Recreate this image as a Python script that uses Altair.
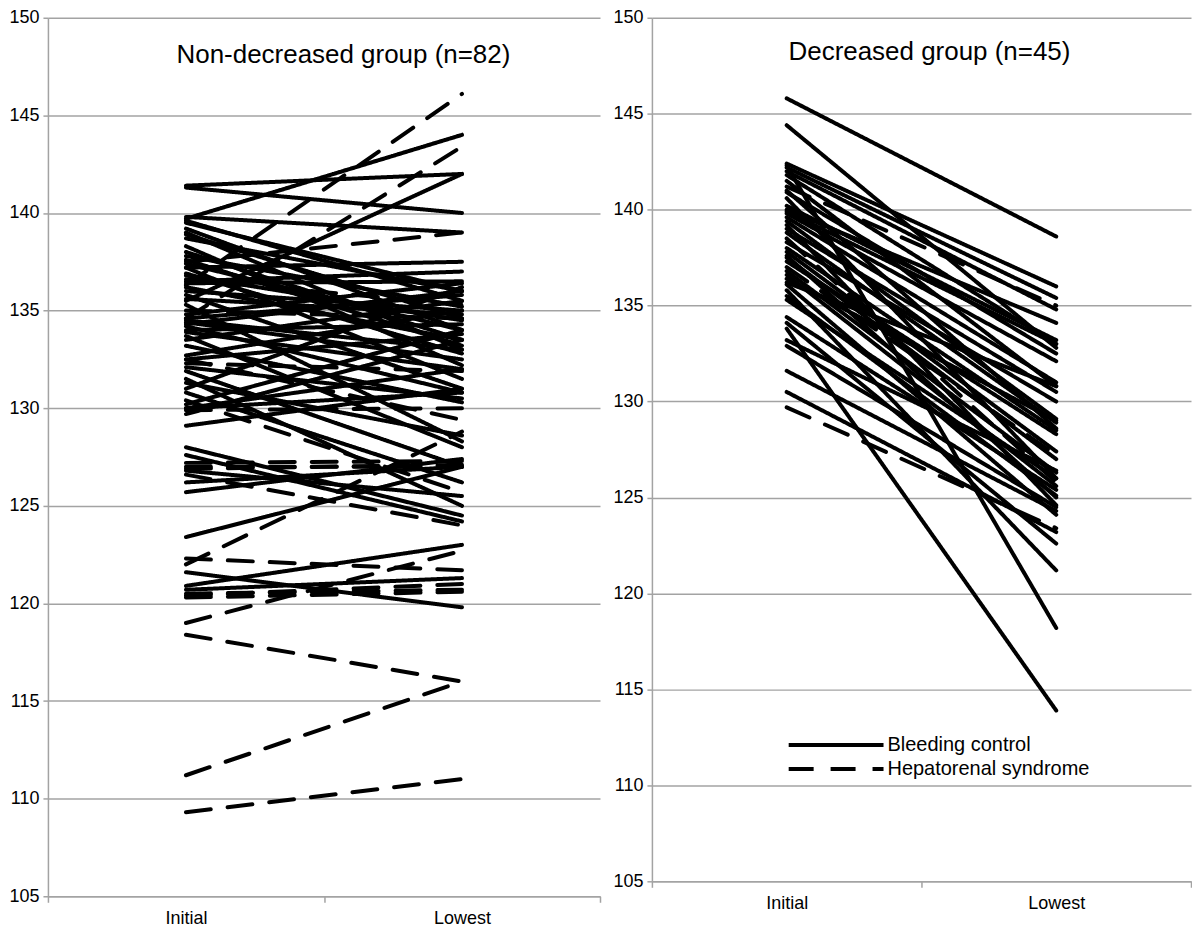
import altair as alt
import pandas as pd

stages = ["Initial", "Lowest"]
types = ["Bleeding control", "Hepatorenal syndrome"]
y_ticks = [105, 110, 115, 120, 125, 130, 135, 140, 145, 150]

title_left = "Non-decreased group (n=82)"
title_right = "Decreased group (n=45)"

# Non-decreased group (n=82): initial value, lowest value, type (B = bleeding control, H = hepatorenal)
nd_initial = [141.4, 141.3, 139.7, 139.8, 139.6, 139.5, 139.2, 139.0, 138.7, 138.3,
              137.8, 137.4, 137.2, 137.5, 137.2, 136.8, 136.5, 136.3, 136.2, 136.0,
              135.8, 135.5, 134.6, 134.8, 134.5, 134.3, 134.2, 134.0, 133.7, 133.5,
              134.4, 135.0, 132.7, 132.5, 132.3, 132.1, 131.9, 132.5, 131.5, 131.0,
              130.4, 130.2, 130.0, 129.9, 129.7, 129.1, 130.0, 128.0, 127.6, 127.2,
              127.0, 126.9, 126.8, 126.6, 126.2, 125.7, 123.4, 122.3, 122.0, 121.6,
              120.9, 120.7, 120.5, 120.3, 120.4, 119.0, 118.4, 111.2, 109.3, 138.0,
              136.9, 135.6, 134.6, 133.9, 136.4, 137.6, 138.9, 135.3, 133.2, 131.3,
              136.6, 130.8]
nd_lowest = [142.0, 140.0, 144.0, 139.0, 135.5, 136.0, 134.0, 133.0, 136.0, 132.2,
             135.2, 134.0, 131.5, 139.0, 137.5, 134.5, 137.0, 146.1, 133.5, 135.0,
             131.0, 142.0, 143.4, 136.4, 133.0, 136.0, 130.8, 134.3, 128.0, 135.5,
             132.5, 134.6, 135.0, 133.8, 131.9, 130.5, 127.0, 129.4, 125.0, 136.2,
             125.7, 134.0, 132.0, 130.0, 133.5, 131.0, 130.8, 124.5, 124.2, 127.3,
             127.0, 127.1, 125.5, 124.0, 127.0, 127.4, 127.0, 121.7, 128.8, 119.8,
             123.0, 121.3, 120.7, 120.6, 121.0, 122.7, 116.0, 116.0, 111.0, 133.5,
             132.8, 134.8, 135.8, 132.0, 136.5, 133.2, 134.6, 128.3, 130.3, 128.6,
             135.3, 126.2]
nd_type = ["B", "B", "B", "B", "B", "B", "B", "B", "B", "B",
           "B", "B", "B", "H", "B", "B", "B", "H", "B", "B",
           "B", "B", "H", "B", "B", "B", "B", "B", "B", "B",
           "B", "H", "B", "B", "H", "B", "B", "H", "B", "B",
           "H", "B", "B", "H", "B", "B", "B", "B", "B", "H",
           "H", "H", "B", "H", "B", "B", "B", "H", "H", "B",
           "B", "B", "H", "H", "H", "H", "H", "H", "H", "B",
           "B", "B", "B", "B", "B", "B", "B", "B", "B", "B",
           "H", "B"]

# Decreased group (n=45)
d_initial = [145.8, 144.4, 142.4, 142.3, 142.2, 142.0, 141.8, 141.5, 141.2, 140.9,
             140.6, 140.2, 139.8, 139.6, 139.4, 139.2, 139.0, 138.8, 138.5, 138.3,
             138.0, 137.8, 137.6, 137.3, 137.0, 136.8, 136.6, 136.4, 136.1, 135.8,
             135.5, 135.3, 134.4, 134.1, 133.8, 133.2, 132.9, 131.6, 130.5, 129.7,
             140.0, 139.9, 137.5, 136.2, 141.0]
d_lowest = [138.6, 132.8, 136.0, 118.2, 135.4, 134.8, 133.0, 130.8, 135.0, 132.5,
            126.0, 133.2, 132.1, 131.0, 129.1, 124.6, 130.5, 128.9, 125.8, 130.0,
            128.5, 127.4, 125.0, 128.3, 127.2, 126.3, 125.6, 129.0, 124.1, 121.2,
            125.1, 126.0, 125.4, 122.6, 113.9, 126.4, 124.5, 124.3, 123.2, 123.4,
            134.1, 133.0, 127.0, 130.8, 128.6]
d_type = ["B", "B", "B", "B", "B", "B", "B", "B", "H", "B",
          "B", "B", "B", "B", "B", "B", "B", "B", "H", "B",
          "B", "B", "B", "B", "H", "B", "B", "B", "B", "B",
          "B", "B", "B", "B", "B", "B", "B", "B", "B", "H",
          "B", "B", "B", "B", "B"]

type_names = {"B": types[0], "H": types[1]}


def long_table(initial, lowest, kind):
    rows = []
    for i, (a, b, k) in enumerate(zip(initial, lowest, kind)):
        rows.append({"id": i, "stage": stages[0], "value": a, "type": type_names[k]})
        rows.append({"id": i, "stage": stages[1], "value": b, "type": type_names[k]})
    return pd.DataFrame(rows)


GRID = "#a3a3a3"


def panel(df, title, width, height, title_x, title_y, legend):
    x = alt.X("stage:N", sort=stages, bandPosition=0.5,
              scale=alt.Scale(type="band", domain=stages, paddingInner=0, paddingOuter=0),
              axis=alt.Axis(title=None, labelAngle=0, tickBand="extent", tickSize=6,
                            tickColor=GRID, tickWidth=1.5, domainColor=GRID, domainWidth=1.5,
                            labelFontSize=18, labelColor="black", labelPadding=7, grid=False))
    y = alt.Y("value:Q", scale=alt.Scale(domain=[105, 150], nice=False, zero=False),
              axis=alt.Axis(title=None, values=y_ticks, tickSize=5, tickColor=GRID, tickWidth=1.5,
                            domainColor=GRID, domainWidth=1.5, gridColor=GRID, gridWidth=1.5,
                            labelFontSize=18, labelColor="black", labelPadding=4))
    lines = alt.Chart(df).mark_line(color="black", strokeWidth=4, strokeCap="round",
                                    strokeJoin="round").encode(
        x=x, y=y, detail="id:N",
        strokeDash=alt.StrokeDash("type:N",
                                  scale=alt.Scale(domain=types, range=[[1, 0], [25, 17]]),
                                  legend=legend),
    )
    ttl = alt.Chart(pd.DataFrame({"t": [title]})).mark_text(
        fontSize=26, color="black", align="center", baseline="middle").encode(
        x=alt.value(title_x), y=alt.value(title_y), text="t:N")
    return alt.layer(lines, ttl).properties(width=width, height=height)


left = panel(long_table(nd_initial, nd_lowest, nd_type), title_left, 553, 880, 296, 37, None)
right_legend = alt.Legend(title=None, orient="none", legendX=173, legendY=717,
                          symbolType="M-5,0H5", symbolSize=361, symbolStrokeWidth=4,
                          symbolStrokeColor="black", labelFontSize=20, labelColor="black",
                          labelOffset=40, labelLimit=0, rowPadding=2, padding=0)
right = panel(long_table(d_initial, d_lowest, d_type), title_right, 540, 865, 278, 34, right_legend)

chart = alt.hconcat(left, right, spacing=11).resolve_scale(
    strokeDash="independent").resolve_legend(strokeDash="independent").properties(
    padding=0
).configure(font="Liberation Sans").configure_view(strokeWidth=0)

chart.save("out.html", embed_options={"renderer": "svg", "actions": False})
